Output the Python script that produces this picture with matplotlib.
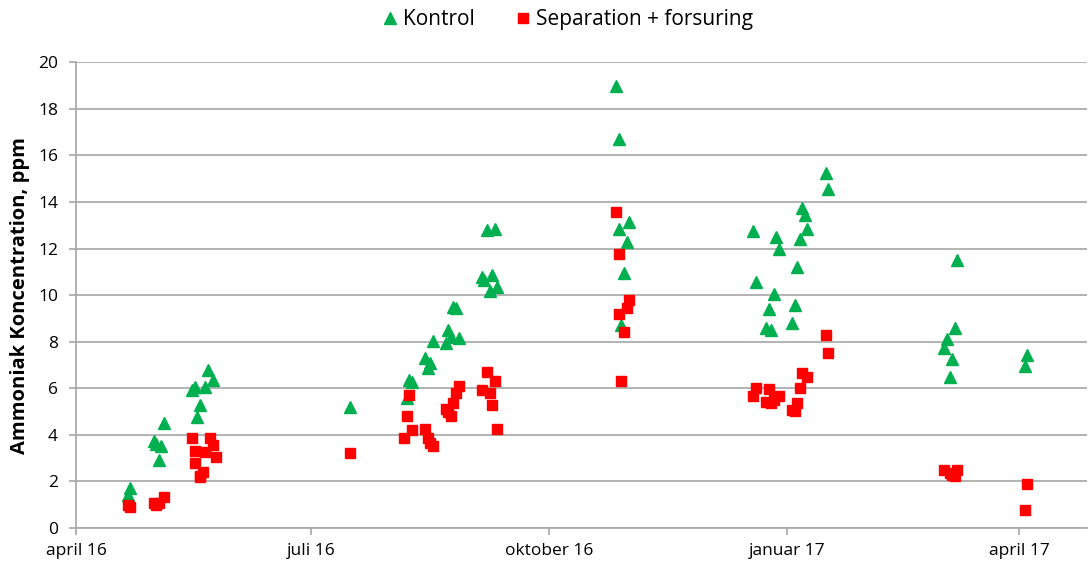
import matplotlib
matplotlib.use("Agg")
import matplotlib.pyplot as plt
import pandas as pd

plt.rcParams["font.family"] = ["Open Sans", "DejaVu Sans"]

# Kontrol (green triangles)
kontrol_dates = [
    "2016-04-21", "2016-04-22", "2016-05-01", "2016-05-02", "2016-05-03",
    "2016-05-04", "2016-05-05", "2016-05-16", "2016-05-17", "2016-05-18",
    "2016-05-19", "2016-05-21", "2016-05-22", "2016-05-24",
    "2016-07-16", "2016-08-07", "2016-08-08", "2016-08-09", "2016-08-14",
    "2016-08-15", "2016-08-16", "2016-08-17", "2016-08-22", "2016-08-23",
    "2016-08-24", "2016-08-25", "2016-08-26", "2016-08-27", "2016-09-05",
    "2016-09-06", "2016-09-07", "2016-09-08", "2016-09-09", "2016-09-10",
    "2016-09-11",
    "2016-10-27", "2016-10-28", "2016-10-28", "2016-10-29", "2016-10-30",
    "2016-10-31", "2016-11-01",
    "2016-12-19", "2016-12-20", "2016-12-24", "2016-12-25", "2016-12-26",
    "2016-12-27", "2016-12-28", "2016-12-29", "2017-01-03", "2017-01-04",
    "2017-01-05", "2017-01-06", "2017-01-07", "2017-01-08", "2017-01-09",
    "2017-01-16", "2017-01-17",
    "2017-03-03", "2017-03-04", "2017-03-05", "2017-03-06", "2017-03-07",
    "2017-03-08", "2017-04-03", "2017-04-04",
]
kontrol_values = [
    1.4, 1.7, 3.75, 3.6, 2.9,
    3.5, 4.5, 5.92, 6.06, 4.78,
    5.28, 6.06, 6.78, 6.35,
    5.2, 5.57, 6.35, 6.28, 7.28,
    6.85, 7.07, 8.04, 7.93, 8.5,
    8.2, 9.5, 9.44, 8.14, 10.79,
    10.64, 12.79, 10.18, 10.86, 12.86,
    10.33,
    19.0, 16.7, 12.86, 8.7, 10.93,
    12.3, 13.15,
    12.76, 10.57, 8.57, 9.4, 8.5,
    10.04, 12.5, 12.0, 8.81, 9.57,
    11.21, 12.39, 13.75, 13.43, 12.82,
    15.25, 14.58,
    7.71, 8.1, 6.5, 7.24, 8.61,
    11.5, 6.97, 7.45,
]

# Separation + forsuring (red squares)
sep_dates = [
    "2016-04-21", "2016-04-22", "2016-05-01", "2016-05-02", "2016-05-03",
    "2016-05-05", "2016-05-16", "2016-05-17", "2016-05-17", "2016-05-19",
    "2016-05-19", "2016-05-20", "2016-05-21", "2016-05-23", "2016-05-24",
    "2016-05-25",
    "2016-07-16", "2016-08-06", "2016-08-07", "2016-08-08", "2016-08-09",
    "2016-08-14", "2016-08-15", "2016-08-16", "2016-08-17", "2016-08-22",
    "2016-08-23", "2016-08-24", "2016-08-25", "2016-08-26", "2016-08-27",
    "2016-09-05", "2016-09-07", "2016-09-08", "2016-09-09", "2016-09-10",
    "2016-09-11",
    "2016-10-27", "2016-10-28", "2016-10-28", "2016-10-29", "2016-10-30",
    "2016-10-31", "2016-11-01",
    "2016-12-19", "2016-12-20", "2016-12-24", "2016-12-25", "2016-12-26",
    "2016-12-27", "2016-12-29", "2017-01-03", "2017-01-04", "2017-01-05",
    "2017-01-06", "2017-01-07", "2017-01-09", "2017-01-16", "2017-01-17",
    "2017-03-03", "2017-03-05", "2017-03-06", "2017-03-07", "2017-03-08",
    "2017-04-03", "2017-04-04",
]
sep_values = [
    0.99, 0.92, 1.06, 1.0, 1.06,
    1.32, 3.85, 2.8, 3.32, 2.2,
    2.23, 2.42, 3.28, 3.85, 3.56,
    3.06,
    3.2, 3.85, 4.8, 5.7, 4.2,
    4.24, 3.85, 3.65, 3.52, 5.09,
    5.0, 4.8, 5.38, 5.8, 6.1,
    5.92, 6.7, 5.8, 5.3, 6.32,
    4.24,
    13.58, 11.76, 9.18, 6.31, 8.43,
    9.43, 9.79,
    5.68, 6.0, 5.42, 5.97, 5.35,
    5.49, 5.67, 5.06, 5.03, 5.35,
    6.0, 6.64, 6.47, 8.28, 7.52,
    2.49, 2.35, 2.27, 2.23, 2.49,
    0.77, 1.87,
]

tick_dates = ["2016-04-01", "2016-07-01", "2016-10-01", "2017-01-01", "2017-04-01"]
tick_labels = ["april 16", "juli 16", "oktober 16", "januar 17", "april 17"]

fig = plt.figure(figsize=(10.89, 5.70), dpi=100)
ax = fig.add_axes([0.0698, 0.0737, 0.928, 0.817])

ax.plot(pd.to_datetime(kontrol_dates), kontrol_values, linestyle="none",
        marker="^", markersize=8, color="#00B050", label="Kontrol", zorder=3)
ax.plot(pd.to_datetime(sep_dates), sep_values, linestyle="none",
        marker="s", markersize=7, color="#FF0000",
        label="Separation + forsuring", zorder=3)

ax.set_xlim(pd.Timestamp("2016-04-01"), pd.Timestamp("2017-04-27"))
ax.set_ylim(0, 20)
ax.set_yticks(range(0, 21, 2))
ax.set_xticks(pd.to_datetime(tick_dates))
ax.set_xticklabels(tick_labels)

ax.grid(axis="y", color="#A6A6A6", linewidth=1.2)
ax.set_axisbelow(True)
for side in ["top", "right"]:
    ax.spines[side].set_visible(False)
for side in ["left", "bottom"]:
    ax.spines[side].set_color("#A6A6A6")
    ax.spines[side].set_linewidth(1.2)
ax.tick_params(axis="both", colors="#A6A6A6", length=5, width=1.2,
               labelcolor="black", labelsize=12.5)
ax.tick_params(axis="y", pad=8)
ax.tick_params(axis="x", pad=6)

ax.set_ylabel("Ammoniak Koncentration, ppm", fontsize=14.5, fontweight="bold",
              labelpad=6)

fig.legend(loc="center", bbox_to_anchor=(0.52, 0.966), ncol=2, frameon=False,
           fontsize=15, handletextpad=0.15, columnspacing=1.8, handlelength=1.0)

fig.savefig("out.png", dpi=100)
